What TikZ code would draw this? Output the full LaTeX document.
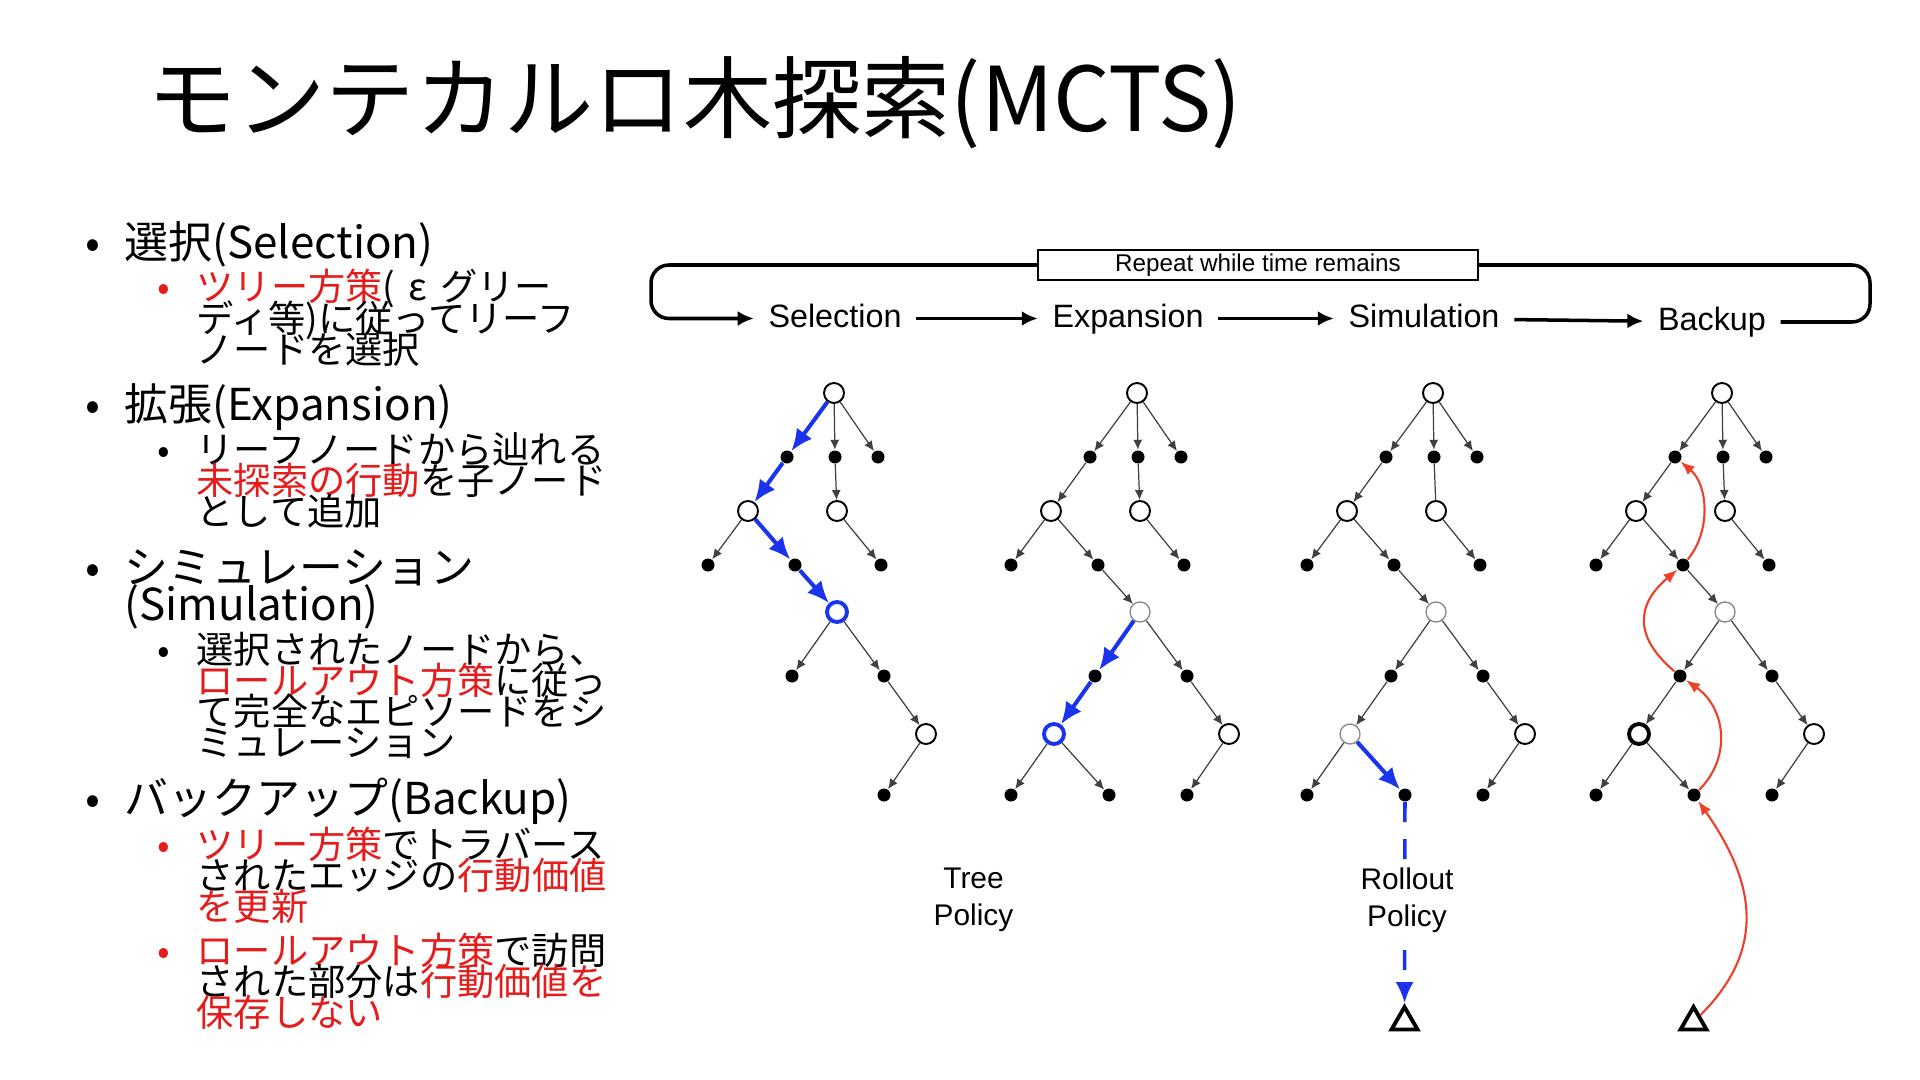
\documentclass[tikz,border=0pt]{standalone}
\usepackage{fontspec}
\setmainfont{Noto Sans CJK JP}
\newfontfamily\figfont{Liberation Sans}
\usetikzlibrary{arrows.meta,shapes.geometric}
\definecolor{mctsred}{RGB}{228,28,28}
\definecolor{mctsblue}{RGB}{26,52,238}
\definecolor{backred}{RGB}{238,64,40}
\tikzset{>=Latex,
  visited/.style={circle,draw,line width=0.55pt,fill=white,minimum size=0.2cm,inner sep=0pt},
  faint/.style={visited,draw=black!45,line width=0.4pt},
  chosen/.style={visited,draw=mctsblue,line width=1.1pt},
  heavy/.style={visited,line width=1.1pt},
  leaf/.style={circle,fill=black,minimum size=0.13cm,inner sep=0pt},
  link/.style={draw=black!75,line width=0.35pt,-{Latex[length=1mm,width=0.9mm]}},
  treepath/.style={draw=mctsblue,line width=1.15pt,-{Latex[length=2.2mm,width=1.9mm]}},
  rollpath/.style={draw=mctsblue,line width=1pt,dash pattern=on 0.2cm off 0.17cm,-{Latex[length=2.1mm,width=1.8mm]}},
  backpath/.style={draw=backred,line width=0.6pt,-{Latex[length=1.4mm,width=1.1mm]}},
  terminal/.style={regular polygon,regular polygon sides=3,draw,line width=1.1pt,minimum size=0.3cm,inner sep=0pt},
  phase/.style={font=\figfont\fontsize{9.2}{11}\selectfont,inner xsep=4pt,inner ysep=2pt,
    text height=0.72em,text depth=0.21em},
  policy/.style={font=\figfont\fontsize{8.5}{10.5}\selectfont,align=center,inner sep=1pt},
  loopline/.style={line width=1pt,rounded corners=0.18cm},
  head/.style={anchor=base west,text width=5.3cm,align=left,inner sep=0pt,
    font=\fontsize{12.5}{10.8}\selectfont,execute at begin node={\lineskiplimit=-\maxdimen}},
  subitem/.style={anchor=base west,text width=4.6cm,align=left,inner sep=0pt,
    font=\fontsize{10.6}{8.87}\selectfont,execute at begin node={\lineskiplimit=-\maxdimen}},
  bigbul/.style={anchor=base,inner sep=0pt,font=\fontsize{12.5}{15}\selectfont},
  smallbul/.style={anchor=base,inner sep=0pt,font=\fontsize{10.6}{13}\selectfont},
}

\begin{document}
\begin{tikzpicture}
  \useasboundingbox (0,0) rectangle (19.2,-10.8);
  % title and bullet list
  \node[anchor=west,font=\fontsize{25.4}{30}\selectfont] (title) at (1.35,-1.03) {モンテカルロ木探索(MCTS)};
  \node[bigbul] (bsel) at (0.93,-2.59) {•};
  \node[head] (sel-t) at (1.24,-2.59) {選択(Selection)};
  \node[smallbul,mctsred] (bsel-s) at (1.64,-3.01) {•};
  \node[subitem] (sel-s) at (1.96,-3.01) {\textcolor{mctsred}{ツリー方策}(\hspace{0.35em}ε\hspace{0.35em}グリー\\ディ等)に従ってリーフ\\ノードを選択};
  \node[bigbul] (bexp) at (0.93,-4.21) {•};
  \node[head] (exp-t) at (1.24,-4.21) {拡張(Expansion)};
  \node[smallbul] (bexp-s) at (1.64,-4.63) {•};
  \node[subitem] (exp-s) at (1.96,-4.63) {リーフノードから辿れる\\\textcolor{mctsred}{未探索の行動}を子ノード\\として追加};
  \node[bigbul] (bsim) at (0.93,-5.83) {•};
  \node[head] (sim-t) at (1.24,-5.83) {シミュレーション\\(Simulation)};
  \node[smallbul] (bsim-s) at (1.64,-6.63) {•};
  \node[subitem] (sim-s) at (1.96,-6.63) {選択されたノードから、\\\textcolor{mctsred}{ロールアウト方策}に従っ\\て完全なエピソードをシ\\ミュレーション};
  \node[bigbul] (bbak) at (0.93,-8.14) {•};
  \node[head] (bak-t) at (1.24,-8.14) {バックアップ(Backup)};
  \node[smallbul,mctsred] (bbak-a) at (1.64,-8.58) {•};
  \node[subitem] (bak-a) at (1.96,-8.58) {\textcolor{mctsred}{ツリー方策}でトラバース\\されたエッジの\textcolor{mctsred}{行動価値\\を更新}};
  \node[smallbul,mctsred] (bbak-b) at (1.64,-9.64) {•};
  \node[subitem] (bak-b) at (1.96,-9.64) {\textcolor{mctsred}{ロールアウト方策}で訪問\\された部分は\textcolor{mctsred}{行動価値を\\保存しない}};
  % the four phases and the loop
  \node[phase] (sel) at (8.35,-3.185) {Selection};
  \node[phase] (exp) at (11.28,-3.185) {Expansion};
  \node[phase] (sim) at (14.24,-3.185) {Simulation};
  \node[phase] (bak) at (17.12,-3.22) {Backup};
  \node[draw,fill=white,line width=0.45pt,minimum width=4.4cm,minimum height=0.3cm,inner sep=0pt,
    font=\figfont\fontsize{6.9}{8}\selectfont] (repeat) at (12.58,-2.65) {Repeat while time remains};
  \coordinate (loopR) at (18.70,-2.65);
  \coordinate (loopL) at (6.51,-2.65);
  \draw[loopline] (bak.east) -| (loopR) -- (repeat.east);
  \draw[loopline,-{Latex[length=1.6mm,width=1.5mm]}] (repeat.west) -- (loopL) |- (sel.west);
  \foreach \a/\b in {sel/exp,exp/sim,sim/bak}
    \draw[line width=1pt,-{Latex[length=1.6mm,width=1.5mm]}] (\a) -- (\b);
  % trees
  \foreach \t/\x/\dsty in {S/8.34/chosen,E/11.37/faint,R/14.33/faint,B/17.22/faint}{
    \node[visited] (\t-r) at (\x,-3.93) {};
    \node[leaf] (\t-a1) at (\x-0.47,-4.57) {};
    \node[leaf] (\t-a2) at (\x+0.01,-4.57) {};
    \node[leaf] (\t-a3) at (\x+0.44,-4.57) {};
    \node[visited] (\t-b1) at (\x-0.86,-5.11) {};
    \node[visited] (\t-b2) at (\x+0.03,-5.11) {};
    \node[leaf] (\t-c1) at (\x-1.26,-5.65) {};
    \node[leaf] (\t-c2) at (\x-0.39,-5.65) {};
    \node[leaf] (\t-c3) at (\x+0.47,-5.65) {};
    \node[\dsty] (\t-d1) at (\x+0.03,-6.12) {};
    \node[leaf] (\t-e1) at (\x-0.42,-6.76) {};
    \node[leaf] (\t-e2) at (\x+0.50,-6.76) {};
    \node[visited] (\t-f1) at (\x+0.92,-7.34) {};
    \node[leaf] (\t-g1) at (\x+0.50,-7.95) {};
  }
  \foreach \t/\x/\fsty in {E/11.37/chosen,R/14.33/faint,B/17.22/heavy}{
    \node[\fsty] (\t-f0) at (\x-0.83,-7.34) {};
    \node[leaf] (\t-g0a) at (\x-1.26,-7.95) {};
    \node[leaf] (\t-g0b) at (\x-0.28,-7.95) {};
  }
  \foreach \t in {S,E,R,B}
    \foreach \a/\b in {r/a2,r/a3,b1/c1,b2/c3,d1/e2,e2/f1,f1/g1}
      \draw[link] (\t-\a) -- (\t-\b);
  \foreach \t in {E,R,B}
    \foreach \a/\b in {r/a1,a1/b1,b1/c2,c2/d1,f0/g0a}
      \draw[link] (\t-\a) -- (\t-\b);
  \foreach \t in {S,E,B} \draw[link] (\t-a2) -- (\t-b2);
  \draw[link,-] (R-a2) -- (R-b2);
  \foreach \t in {S,R,B} \draw[link] (\t-d1) -- (\t-e1);
  \foreach \t in {R,B} \draw[link] (\t-e1) -- (\t-f0);
  \foreach \t in {E,B} \draw[link] (\t-f0) -- (\t-g0b);
  % tree policy and rollout
  \foreach \a/\b in {r/a1,a1/b1,b1/c2,c2/d1} \draw[treepath] (S-\a) -- (S-\b);
  \draw[treepath] (E-d1) -- (E-e1);
  \draw[treepath] (E-e1) -- (E-f0);
  \draw[treepath] (R-f0) -- (R-g0b);
  \node[terminal] (R-term) at (14.045,-10.22) {};
  \node[terminal] (B-term) at (16.935,-10.22) {};
  \draw[rollpath] (R-g0b) -- (R-term);
  \node[policy] (treepol) at (9.735,-9.00) {Tree\\Policy};
  \node[policy,fill=white] (rollpol) at (14.07,-9.00) {Rollout\\Policy};
  % backup
  \draw[backpath] (B-term) to[out=45,in=-55,looseness=1.15] (B-g0b);
  \draw[backpath] (B-g0b) to[out=45,in=-35,looseness=1.1] (B-e1);
  \draw[backpath] (B-e1) to[out=140,in=-140,looseness=1.35] (B-c2);
  \draw[backpath] (B-c2) to[out=50,in=-40,looseness=0.95] (B-a1);
\end{tikzpicture}
\end{document}
